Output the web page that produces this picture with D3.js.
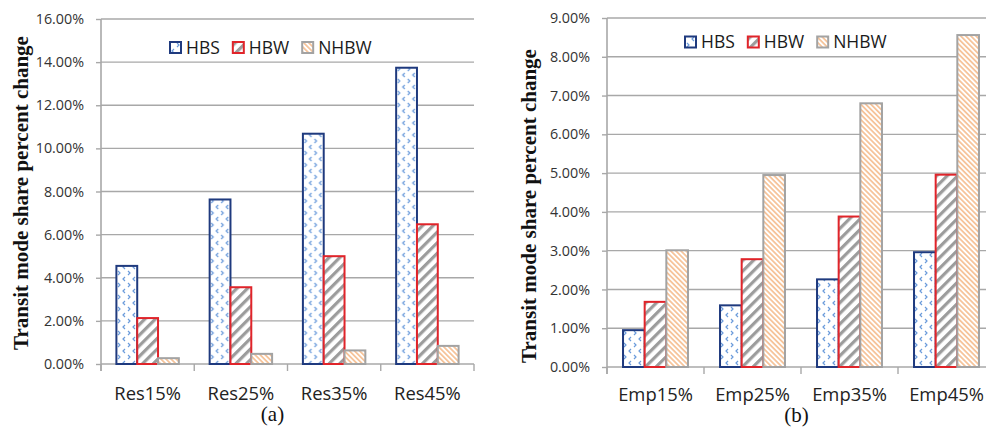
<!DOCTYPE html>
<html>
<head>
<meta charset="utf-8">
<script src="https://cdn.jsdelivr.net/npm/d3@7"></script>
<style>
  html, body { margin: 0; padding: 0; background: #fff; }
  svg { display: block; }
</style>
</head>
<body>
<svg id="chart" width="986" height="428"></svg>
<script>
// Categories and series
const categoriesA = ["Res15%", "Res25%", "Res35%", "Res45%"];
const categoriesB = ["Emp15%", "Emp25%", "Emp35%", "Emp45%"];
const seriesNames = ["HBS", "HBW", "NHBW"];

// Transit mode share percent change (%), panel (a)
const hbsA  = [4.55, 7.63, 10.68, 13.74];
const hbwA  = [2.13, 3.56, 5.00, 6.48];
const nhbwA = [0.27, 0.47, 0.63, 0.84];

// Transit mode share percent change (%), panel (b)
const hbsB  = [0.95, 1.59, 2.26, 2.96];
const hbwB  = [1.68, 2.78, 3.88, 4.96];
const nhbwB = [3.01, 4.95, 6.80, 8.56];

// Y tick values
const ticksA = [0, 2, 4, 6, 8, 10, 12, 14, 16];
const ticksB = [0, 1, 2, 3, 4, 5, 6, 7, 8, 9];

const svg = d3.select("#chart");
const defs = svg.append("defs");

// Fill patterns for each series
const pHBS = defs.append("pattern").attr("id", "pat-hbs")
  .attr("patternUnits", "userSpaceOnUse").attr("width", 10).attr("height", 12);
pHBS.append("rect").attr("width", 10).attr("height", 12).attr("fill", "#fff");
pHBS.append("path").attr("d", "M4,1 L2,3 L4,5").attr("fill", "none")
  .attr("stroke", "#6a9bdb").attr("stroke-width", 1.2);
pHBS.append("path").attr("d", "M7,7 L9,9 L7,11").attr("fill", "none")
  .attr("stroke", "#6a9bdb").attr("stroke-width", 1.2);

const pHBW = defs.append("pattern").attr("id", "pat-hbw")
  .attr("patternUnits", "userSpaceOnUse").attr("width", 7.5).attr("height", 7.5)
  .attr("patternTransform", "rotate(45)");
pHBW.append("rect").attr("width", 7.5).attr("height", 7.5).attr("fill", "#fff");
pHBW.append("rect").attr("width", 3.2).attr("height", 7.5).attr("fill", "#9c9c9c");

const pNH = defs.append("pattern").attr("id", "pat-nhbw")
  .attr("patternUnits", "userSpaceOnUse").attr("width", 3.6).attr("height", 3.6)
  .attr("patternTransform", "rotate(-45)");
pNH.append("rect").attr("width", 3.6).attr("height", 3.6).attr("fill", "#fff");
pNH.append("rect").attr("width", 1.8).attr("height", 3.6).attr("fill", "#f6c49b");

const fills = { HBS: "url(#pat-hbs)", HBW: "url(#pat-hbw)", NHBW: "url(#pat-nhbw)" };
const strokes = { HBS: "#1f3a7e", HBW: "#e0242a", NHBW: "#a3a3a3" };

const gridColor = "#a8a8a8";
const sansFont = "'Open Sans', sans-serif";
const serifFont = "'Liberation Serif', 'Times New Roman', serif";

function drawPanel(cfg) {
  const g = svg.append("g");
  const x0 = d3.scaleBand().domain(cfg.categories).range(cfg.xRange).padding(0);
  const x1 = d3.scaleBand().domain(seriesNames).range([0, x0.bandwidth()])
    .paddingInner(0).paddingOuter(0.74);
  const y = d3.scaleLinear().domain([0, d3.max(cfg.ticks)]).range(cfg.yRange);

  // Horizontal gridlines
  g.append("g").selectAll("line").data(cfg.ticks.slice(1)).join("line")
    .attr("x1", cfg.xRange[0]).attr("x2", cfg.xRange[1])
    .attr("y1", d => y(d)).attr("y2", d => y(d))
    .attr("stroke", gridColor).attr("stroke-width", 1.4);

  // Y axis with labels
  const yAxis = g.append("g").attr("transform", `translate(${cfg.xRange[0]},0)`)
    .call(d3.axisLeft(y).tickValues(cfg.ticks).tickSize(5).tickPadding(12)
      .tickFormat(d => d.toFixed(2) + "%"));
  yAxis.select(".domain").attr("stroke", gridColor).attr("stroke-width", 1.6)
    .attr("d", `M0,${cfg.yRange[1]}V${cfg.yRange[0] + 7}`);
  yAxis.selectAll(".tick line").attr("stroke", gridColor).attr("stroke-width", 1.4);
  yAxis.selectAll(".tick text").attr("font-family", sansFont).attr("font-size", 14.3)
    .attr("fill", "#333");

  // X axis baseline, boundary ticks, and category labels
  const xAxis = g.append("g").attr("transform", `translate(0,${cfg.yRange[0]})`)
    .call(d3.axisBottom(x0).tickSize(0).tickPadding(0));
  xAxis.select(".domain").attr("stroke", gridColor).attr("stroke-width", 1.6)
    .attr("d", `M${cfg.xRange[0]},0H${cfg.xRange[1]}`);
  xAxis.selectAll(".tick text").attr("font-family", sansFont).attr("font-size", 18.4)
    .attr("fill", "#222").attr("dy", 0).attr("y", cfg.labelOffset);
  const bounds = cfg.categories.map(c => x0(c)).concat([cfg.xRange[1]]);
  xAxis.append("g").selectAll("line").data(bounds).join("line")
    .attr("x1", d => d).attr("x2", d => d).attr("y1", 0).attr("y2", 7)
    .attr("stroke", gridColor).attr("stroke-width", 1.4);

  // Bars
  const rows = cfg.categories.map((c, i) => ({
    cat: c,
    vals: seriesNames.map(s => ({ s, v: cfg.values[s][i] }))
  }));
  g.append("g").selectAll("g").data(rows).join("g")
    .attr("transform", d => `translate(${x0(d.cat)},0)`)
    .selectAll("rect").data(d => d.vals).join("rect")
    .attr("x", d => x1(d.s)).attr("width", x1.bandwidth())
    .attr("y", d => y(d.v)).attr("height", d => y(0) - y(d.v))
    .attr("fill", d => fills[d.s]).attr("stroke", d => strokes[d.s])
    .attr("stroke-width", 2);

  // Legend
  const lg = g.append("g");
  let lx = cfg.legend[0];
  const ly = cfg.legend[1];
  seriesNames.forEach(s => {
    lg.append("rect").attr("x", lx + 1).attr("y", ly - 5.5).attr("width", 11).attr("height", 11)
      .attr("fill", fills[s]).attr("stroke", strokes[s]).attr("stroke-width", 2);
    const t = lg.append("text").attr("x", lx + 17).attr("y", ly + 6.3)
      .attr("font-family", sansFont).attr("font-size", 17.5).attr("fill", "#1a1a1a").text(s);
    lx += 17 + t.node().getComputedTextLength() + 12;
  });

  // Y axis title
  g.append("text")
    .attr("transform", `translate(${cfg.titlePos[0]},${cfg.titlePos[1]}) rotate(-90)`)
    .attr("text-anchor", "middle").attr("font-family", serifFont)
    .attr("font-weight", "bold").attr("font-size", 21).attr("fill", "#111")
    .text("Transit mode share percent change");

  // Panel caption
  g.append("text").attr("x", cfg.caption[0]).attr("y", cfg.caption[1])
    .attr("text-anchor", "middle").attr("font-family", serifFont)
    .attr("font-size", 21).attr("fill", "#111").text(cfg.captionText);
}

drawPanel({
  categories: categoriesA,
  values: { HBS: hbsA, HBW: hbwA, NHBW: nhbwA },
  ticks: ticksA,
  xRange: [101, 474],
  yRange: [364, 19],
  labelOffset: 35.5,
  legend: [169, 47.5],
  titlePos: [28, 193],
  caption: [272.5, 421],
  captionText: "(a)"
});

drawPanel({
  categories: categoriesB,
  values: { HBS: hbsB, HBW: hbwB, NHBW: nhbwB },
  ticks: ticksB,
  xRange: [607, 995],
  yRange: [367, 18],
  labelOffset: 34,
  legend: [684, 42],
  titlePos: [536, 206],
  caption: [796.5, 422],
  captionText: "(b)"
});
</script>
</body>
</html>
